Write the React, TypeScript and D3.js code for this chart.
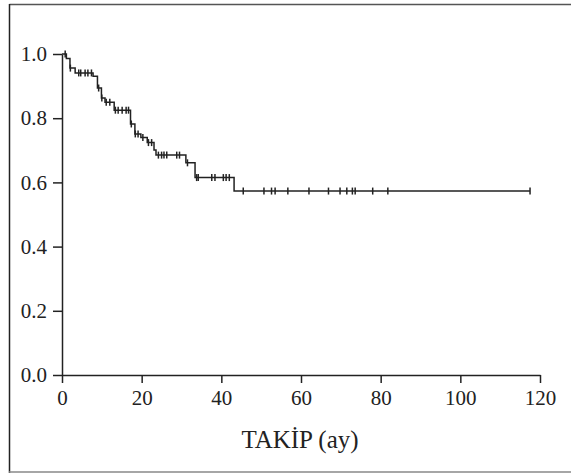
import React, { useRef, useEffect } from 'react';
import * as d3 from 'd3';

// olay zamanlari (ay) ve sonrasindaki sagkalim
const eventTimes = [1.1, 2.0, 3.3, 7.8, 8.9, 9.9, 10.8, 13.1, 17.2, 18.3, 19.8, 21.4, 23.1, 23.6, 31.1, 33.4, 43.2];
const survival = [0.986, 0.956, 0.941, 0.931, 0.894, 0.863, 0.85, 0.825, 0.782, 0.751, 0.74, 0.724, 0.701, 0.685, 0.661, 0.615, 0.573];
// sansurlu gozlemler (ay)
const censorTimes = [
  0.8, 2.1, 4.2, 4.7, 5.8, 6.5, 7.4, 9.2, 10.0, 11.1, 12.0, 13.4, 14.1, 15.1, 16.1, 16.7, 17.4,
  18.4, 19.1, 20.3, 21.7, 22.5, 24.2, 25.0, 25.6, 26.3, 28.8, 29.5, 31.5, 33.8, 34.2, 37.6, 38.4,
  40.5, 41.2, 42.0, 45.5, 50.7, 52.6, 53.5, 56.7, 62.0, 66.9, 69.8, 71.5, 72.9, 73.6, 78.0, 81.8, 117.5,
];
const xTicks = [0, 20, 40, 60, 80, 100, 120];
const yTicks = [0, 0.2, 0.4, 0.6, 0.8, 1.0];
const xLabel = 'TAKİP (ay)';

const W = 571;
const H = 473;
const ink = '#222';
const font = '"Liberation Serif", "Times New Roman", serif';

function survAt(t: number) {
  let s = 1;
  eventTimes.forEach((e, i) => {
    if (e <= t) s = survival[i];
  });
  return s;
}

const App = () => {
  const xRef = useRef<SVGGElement>(null);
  const yRef = useRef<SVGGElement>(null);

  const x = d3.scaleLinear().domain([0, 120]).range([62, 540]);
  const y = d3.scaleLinear().domain([0, 1]).range([375, 54]);

  useEffect(() => {
    const xAxis = d3.axisBottom(x).tickValues(xTicks).tickSize(8).tickSizeOuter(0).tickPadding(7).tickFormat(d3.format('d'));
    const yAxis = d3.axisLeft(y).tickValues(yTicks).tickSize(9).tickSizeOuter(0).tickPadding(6).tickFormat(d3.format('.1f'));

    const gx = d3.select(xRef.current).call(xAxis as any);
    const gy = d3.select(yRef.current).call(yAxis as any);
    [gx, gy].forEach((g) => {
      g.selectAll('path,line').attr('stroke', ink).attr('stroke-width', 1.5);
      g.selectAll('text').attr('fill', ink).style('font-family', font).style('font-size', '21px');
    });
  }, []);

  const pts: [number, number][] = [[0, 1], ...eventTimes.map((t, i) => [t, survival[i]] as [number, number]), [117.5, survAt(117.5)]];
  const kmLine = d3
    .line<[number, number]>()
    .x((d) => x(d[0]))
    .y((d) => y(d[1]))
    .curve(d3.curveStepAfter);

  return (
    <svg width={W} height={H} style={{ position: 'absolute', left: 0, top: 0, background: '#fff' }}>
      <line x1={9.5} y1={4.5} x2={W} y2={4.5} stroke="#555" strokeWidth={1.5} />
      <line x1={9.5} y1={4} x2={9.5} y2={H} stroke={ink} strokeWidth={1.5} />
      <line x1={9} y1={472} x2={W} y2={472} stroke="#888" strokeWidth={1.5} />

      <g ref={yRef} transform="translate(62,0)" />
      <g ref={xRef} transform="translate(0,375)" />

      <path d={kmLine(pts) || ''} fill="none" stroke={ink} strokeWidth={1.5} />
      {censorTimes.map((t, i) => (
        <line key={i} x1={x(t)} x2={x(t)} y1={y(survAt(t)) - 3.5} y2={y(survAt(t)) + 3.5} stroke={ink} strokeWidth={1.5} />
      ))}

      <text x={300} y={448} textAnchor="middle" fill={ink} style={{ fontFamily: font, fontSize: 25 }}>
        {xLabel}
      </text>
    </svg>
  );
};

export default App;
